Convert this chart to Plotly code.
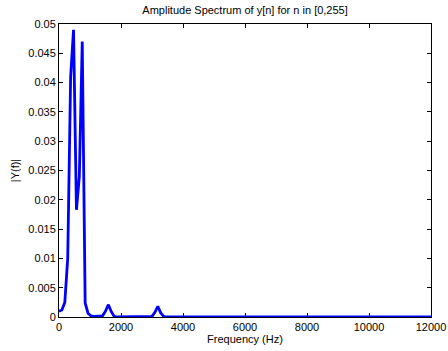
import numpy as np
import plotly.graph_objects as go

fs = 24000
N = 256
freq = np.arange(0, N // 2 + 1) * fs / N  # 0 .. 12000 Hz

# amplitude values for bins 0..40, rest ~0
amp_head = [0.0010, 0.0012, 0.0025, 0.0100, 0.0410, 0.0490, 0.0183, 0.0240, 0.0470, 0.0024,
            0.0006, 0.0002, 0.0001, 0.0001, 0.0001, 0.0002, 0.0010, 0.0021, 0.0009, 0.0001,
            0.0000, 0.0000, 0.0000, 0.0000, 0.0000, 0.0000, 0.0000, 0.0000, 0.0000, 0.0000,
            0.0000, 0.0000, 0.0001, 0.0008, 0.0018, 0.0007, 0.0001, 0.0000, 0.0000, 0.0000,
            0.0000]
amp = amp_head + [0.0] * (len(freq) - len(amp_head))

x_ticks = [0, 2000, 4000, 6000, 8000, 10000, 12000]
y_ticks = [0, 0.005, 0.01, 0.015, 0.02, 0.025, 0.03, 0.035, 0.04, 0.045, 0.05]

fig = go.Figure()
fig.add_trace(go.Scatter(x=freq, y=amp, mode="lines",
                         line=dict(color="#0000ff", width=2.8)))

font = dict(family="Liberation Sans, Arial, sans-serif", size=11, color="#000")
axis_common = dict(showgrid=False, zeroline=False, showline=True, linecolor="#000",
                   linewidth=1, mirror="allticks", ticks="inside", ticklen=4,
                   tickcolor="#000", tickfont=font, automargin=False)

fig.update_layout(
    width=448, height=351,
    margin=dict(l=59, r=17, t=24, b=34, autoexpand=False),
    paper_bgcolor="#fff", plot_bgcolor="#fff",
    showlegend=False,
    title=dict(text="Amplitude Spectrum of y[n] for n in [0,255]", x=0.547, xanchor="center",
               y=0.972, yanchor="middle", font=dict(family=font["family"], size=11, color="#000")),
    xaxis=dict(range=[0, 12000], tickvals=x_ticks, ticktext=[str(v) for v in x_ticks],
               title=dict(text="Frequency (Hz)", font=font, standoff=2), **axis_common),
    yaxis=dict(range=[0, 0.05], tickvals=y_ticks, ticktext=[f"{v:g}" for v in y_ticks],
               title=dict(text="|Y(f)|", font=font, standoff=6), **axis_common),
)

fig.write_html("out.html")
